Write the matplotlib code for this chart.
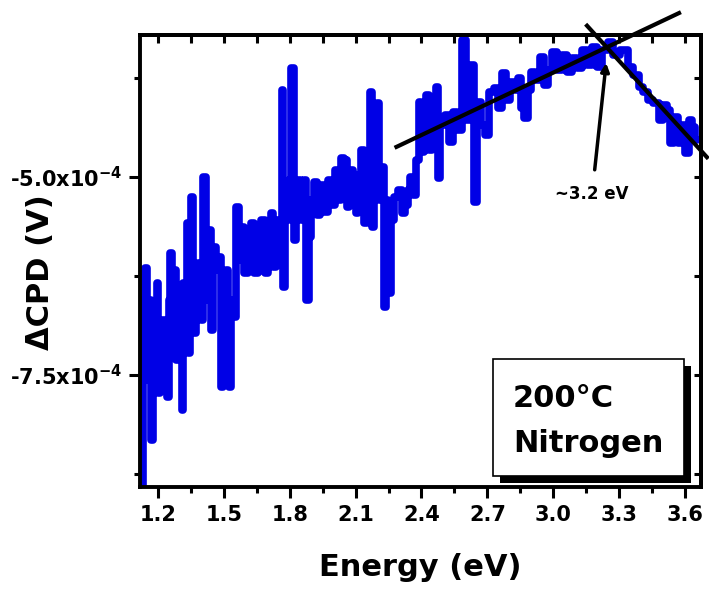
import matplotlib
matplotlib.use("Agg")
import matplotlib.pyplot as plt
import numpy as np
from matplotlib.ticker import MultipleLocator, AutoMinorLocator, FuncFormatter
from matplotlib.patches import Rectangle

plt.rcParams['font.family'] = ['DejaVu Sans']
plt.rcParams['font.weight'] = 'bold'
plt.rcParams['axes.labelweight'] = 'bold'
plt.rcParams['mathtext.default'] = 'bf'

# trace: energy (eV) and CPD (units of 1e-4 V)
energy = [1.127, 1.132, 1.145, 1.154, 1.163, 1.173, 1.182, 1.191, 1.200, 1.204,
          1.213, 1.223, 1.236, 1.245, 1.254, 1.259, 1.268, 1.277, 1.286, 1.300,
          1.309, 1.313, 1.318, 1.327, 1.336, 1.341, 1.350, 1.354, 1.363, 1.368,
          1.377, 1.391, 1.400, 1.413, 1.423, 1.436, 1.445, 1.459, 1.473, 1.482,
          1.491, 1.504, 1.513, 1.523, 1.527, 1.536, 1.550, 1.563, 1.573, 1.586,
          1.600, 1.618, 1.632, 1.645, 1.663, 1.677, 1.695, 1.709, 1.718, 1.732,
          1.745, 1.754, 1.763, 1.768, 1.773, 1.782, 1.791, 1.800, 1.813, 1.823,
          1.832, 1.845, 1.859, 1.868, 1.882, 1.891, 1.904, 1.918, 1.932, 1.945,
          1.963, 1.982, 1.995, 2.013, 2.027, 2.036, 2.054, 2.063, 2.077, 2.095,
          2.104, 2.118, 2.127, 2.145, 2.159, 2.168, 2.177, 2.191, 2.200, 2.209,
          2.223, 2.232, 2.245, 2.254, 2.268, 2.286, 2.304, 2.318, 2.332, 2.345,
          2.354, 2.368, 2.382, 2.391, 2.404, 2.418, 2.427, 2.441, 2.454, 2.463,
          2.473, 2.477, 2.495, 2.518, 2.536, 2.554, 2.573, 2.595, 2.609, 2.632,
          2.645, 2.663, 2.682, 2.695, 2.718, 2.741, 2.754, 2.777, 2.791, 2.813,
          2.836, 2.845, 2.859, 2.877, 2.891, 2.909, 2.927, 2.950, 2.968, 2.982,
          3.004, 3.027, 3.050, 3.073, 3.095, 3.118, 3.141, 3.163, 3.186, 3.209,
          3.232, 3.263, 3.286, 3.323, 3.354, 3.377, 3.400, 3.422, 3.445, 3.468,
          3.491, 3.509, 3.527, 3.541, 3.559, 3.577, 3.595, 3.609, 3.627, 3.641,
          3.654]
cpd = [-8.89, -6.55, -6.15, -7.56, -6.55, -8.32, -7.06, -7.18, -6.34, -7.73,
       -7.06, -6.81, -7.44, -7.78, -6.55, -5.96, -6.93, -6.17, -7.31, -6.72,
       -7.18, -7.94, -6.34, -6.55, -5.58, -7.22, -6.05, -5.25, -6.55, -6.97,
       -6.17, -6.09, -6.81, -5.00, -6.55, -5.67, -6.93, -5.88, -6.17, -6.01,
       -7.65, -6.43, -6.17, -6.93, -7.65, -6.55, -6.77, -5.38, -6.05, -5.63,
       -6.21, -5.80, -5.58, -6.21, -5.80, -5.54, -6.21, -5.67, -5.45, -6.14,
       -5.54, -5.92, -5.67, -3.90, -6.39, -5.29, -5.54, -5.04, -3.62, -5.80,
       -5.29, -5.04, -5.54, -5.04, -6.55, -5.76, -5.29, -5.06, -5.48, -5.10,
       -5.44, -5.04, -5.35, -4.91, -5.29, -4.76, -4.79, -5.38, -4.91, -4.97,
       -5.45, -5.04, -4.66, -5.58, -5.04, -3.93, -5.63, -5.04, -4.07, -5.29,
       -4.87, -6.64, -5.29, -6.46, -5.54, -5.25, -5.16, -5.45, -5.35, -5.16,
       -5.00, -5.23, -4.79, -4.05, -4.68, -4.15, -3.96, -4.66, -4.28, -4.60,
       -3.86, -5.01, -4.34, -4.22, -4.56, -4.18, -4.41, -3.27, -4.28, -3.59,
       -5.32, -4.05, -4.34, -4.47, -3.93, -3.88, -4.13, -3.69, -4.03, -3.80,
       -3.90, -3.75, -4.13, -4.26, -3.90, -3.67, -3.78, -3.48, -3.84, -3.65,
       -3.42, -3.65, -3.46, -3.67, -3.50, -3.62, -3.40, -3.59, -3.36, -3.61,
       -3.40, -3.30, -3.46, -3.40, -3.61, -3.71, -3.86, -3.93, -4.03, -4.07,
       -4.28, -4.09, -4.15, -4.57, -4.24, -4.57, -4.34, -4.70, -4.28, -4.37,
       -4.53]

# the two hand drawn fit lines and the arrow (energy, CPD in 1e-4 V)
fit_rise_x = [2.286, 3.573]
fit_rise_y = [-4.62, -2.93]
fit_fall_x = [3.154, 3.700]
fit_fall_y = [-3.09, -4.75]
onset_label = "~3.2 eV"
onset_tip = (3.241, -3.56)
onset_text = (3.177, -5.215)

box_lines = ["200°C", "Nitrogen"]

blue = '#0000e6'
e = np.array(energy)
v = np.array(cpd) * 1e-4

fig = plt.figure(figsize=(7.09, 5.89), dpi=100)
ax = fig.add_axes([0.1975, 0.1732, 0.7912, 0.7674])

ax.plot(e, v, color=blue, lw=5.5, drawstyle='steps-mid',
        solid_joinstyle='round', solid_capstyle='round')

ax.plot(fit_rise_x, np.array(fit_rise_y) * 1e-4, color='black', lw=3, clip_on=False)
ax.plot(fit_fall_x, np.array(fit_fall_y) * 1e-4, color='black', lw=3, clip_on=False)
ax.annotate(onset_label, xy=(onset_tip[0], onset_tip[1] * 1e-4),
            xytext=(onset_text[0], onset_text[1] * 1e-4),
            ha='center', va='center', fontsize=12, fontweight='bold',
            arrowprops=dict(arrowstyle='-|>', color='black', lw=2.5,
                            mutation_scale=12, shrinkA=9, shrinkB=0))

ax.set_xlim(1.118, 3.673)
ax.set_ylim(-8.914e-4, -3.207e-4)

ax.xaxis.set_major_locator(MultipleLocator(0.3))
ax.xaxis.set_minor_locator(AutoMinorLocator(2))
ax.yaxis.set_major_locator(MultipleLocator(2.5e-4))
ax.yaxis.set_minor_locator(AutoMinorLocator(2))
ax.xaxis.set_major_formatter(FuncFormatter(lambda x, p: '%.1f' % x))
ax.yaxis.set_major_formatter(FuncFormatter(lambda y, p: '%.1fx10$^{-4}$' % (y * 1e4)))

ax.tick_params(which='both', direction='out', width=2.2, labelsize=15, pad=5)
ax.tick_params(which='major', length=8)
ax.tick_params(which='minor', length=4.5)
for s in ax.spines.values():
    s.set_linewidth(2.8)

# Origin style inward ticks on top and right
top = ax.secondary_xaxis('top')
top.xaxis.set_major_locator(MultipleLocator(0.3))
top.xaxis.set_minor_locator(AutoMinorLocator(2))
top.tick_params(which='both', direction='in', length=6, width=2.2, labeltop=False)
right = ax.secondary_yaxis('right')
right.yaxis.set_major_locator(MultipleLocator(2.5e-4))
right.yaxis.set_minor_locator(AutoMinorLocator(2))
right.tick_params(which='both', direction='in', length=5, width=2.2, labelright=False)
for sec in (top, right):
    for s in sec.spines.values():
        s.set_linewidth(2.8)

ax.set_xlabel('Energy (eV)', fontsize=22, fontweight='bold', va='center')
ax.xaxis.set_label_coords(0.5, -0.179)
ax.set_ylabel('ΔCPD (V)', fontsize=22, fontweight='bold', va='center')
ax.yaxis.set_label_coords(-0.178, 0.476)

# label box with drop shadow
ax.add_patch(Rectangle((0.6415, 0.0088), 0.341, 0.259, transform=ax.transAxes,
                       facecolor='black', edgecolor='none', zorder=5))
ax.add_patch(Rectangle((0.629, 0.0243), 0.341, 0.259, transform=ax.transAxes,
                       facecolor='white', edgecolor='black', lw=1.2, zorder=6))
ax.text(0.665, 0.177, box_lines[0], transform=ax.transAxes, fontsize=22,
        fontweight='bold', va='baseline', zorder=7)
ax.text(0.665, 0.0774, box_lines[1], transform=ax.transAxes, fontsize=22,
        fontweight='bold', va='baseline', zorder=7)

fig.savefig('out.png', dpi=100)
